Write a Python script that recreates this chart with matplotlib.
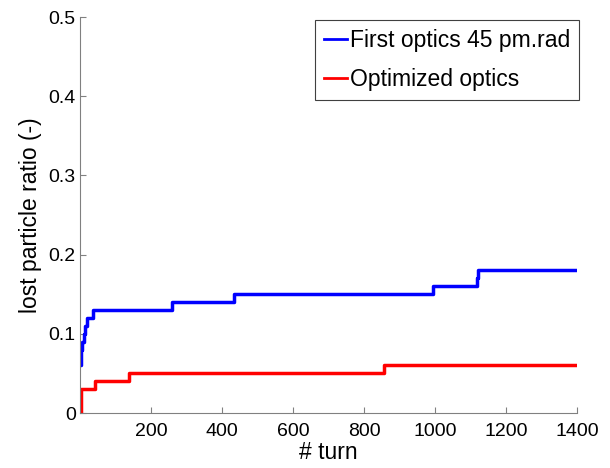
import matplotlib
matplotlib.use("Agg")
import matplotlib.pyplot as plt

# step points (turn, lost particle ratio)
first_turns = [0, 2, 4, 7, 10, 14, 20, 37, 258, 435, 995, 1118, 1121, 1400]
first_ratio = [0.06, 0.07, 0.08, 0.09, 0.10, 0.11, 0.12, 0.13, 0.14, 0.15, 0.16, 0.17, 0.18, 0.18]

opt_turns = [0, 2, 43, 137, 857, 1400]
opt_ratio = [0.0, 0.03, 0.04, 0.05, 0.06, 0.06]

x_ticks = [200, 400, 600, 800, 1000, 1200, 1400]
y_ticks = [0, 0.1, 0.2, 0.3, 0.4, 0.5]
y_tick_labels = ["0", "0.1", "0.2", "0.3", "0.4", "0.5"]

plt.rcParams["font.family"] = ["Liberation Sans", "DejaVu Sans"]

W, H = 610, 468
fig = plt.figure(figsize=(W / 100, H / 100), dpi=100)
ax = fig.add_axes([80 / W, 1 - 413 / H, 497 / W, 396 / H])

ax.step(first_turns, first_ratio, where="post", color="#0000ff", lw=2.5,
        label="First optics 45 pm.rad")
ax.step(opt_turns, opt_ratio, where="post", color="#ff0000", lw=2.5,
        label="Optimized optics")

ax.set_xlim(0, 1400)
ax.set_ylim(0, 0.5)
ax.set_xticks(x_ticks)
ax.set_yticks(y_ticks)
ax.set_yticklabels(y_tick_labels)
ax.tick_params(direction="in", length=4, width=0.8, color="#808080",
               labelsize=14)
ax.tick_params(axis="x", pad=7)
ax.tick_params(axis="y", pad=3)

for side in ("top", "right"):
    ax.spines[side].set_visible(False)
for side in ("left", "bottom"):
    ax.spines[side].set_color("#808080")
    ax.spines[side].set_linewidth(0.8)

ax.set_xlabel("# turn", fontsize=16.5, labelpad=1)
ax.set_ylabel("lost particle ratio (-)", fontsize=16.5, labelpad=5)

leg = ax.legend(loc="upper right", bbox_to_anchor=(579 / W, 1 - 20 / H),
                bbox_transform=fig.transFigure, fontsize=16.5,
                fancybox=False, framealpha=1, handlelength=1.0,
                handletextpad=0.1, borderaxespad=0, borderpad=0.4,
                labelspacing=0.7)
leg.get_frame().set_edgecolor("#404040")
leg.get_frame().set_linewidth(0.8)
for line in leg.get_lines():
    line.set_linewidth(2)

fig.savefig("out.png", dpi=100)
